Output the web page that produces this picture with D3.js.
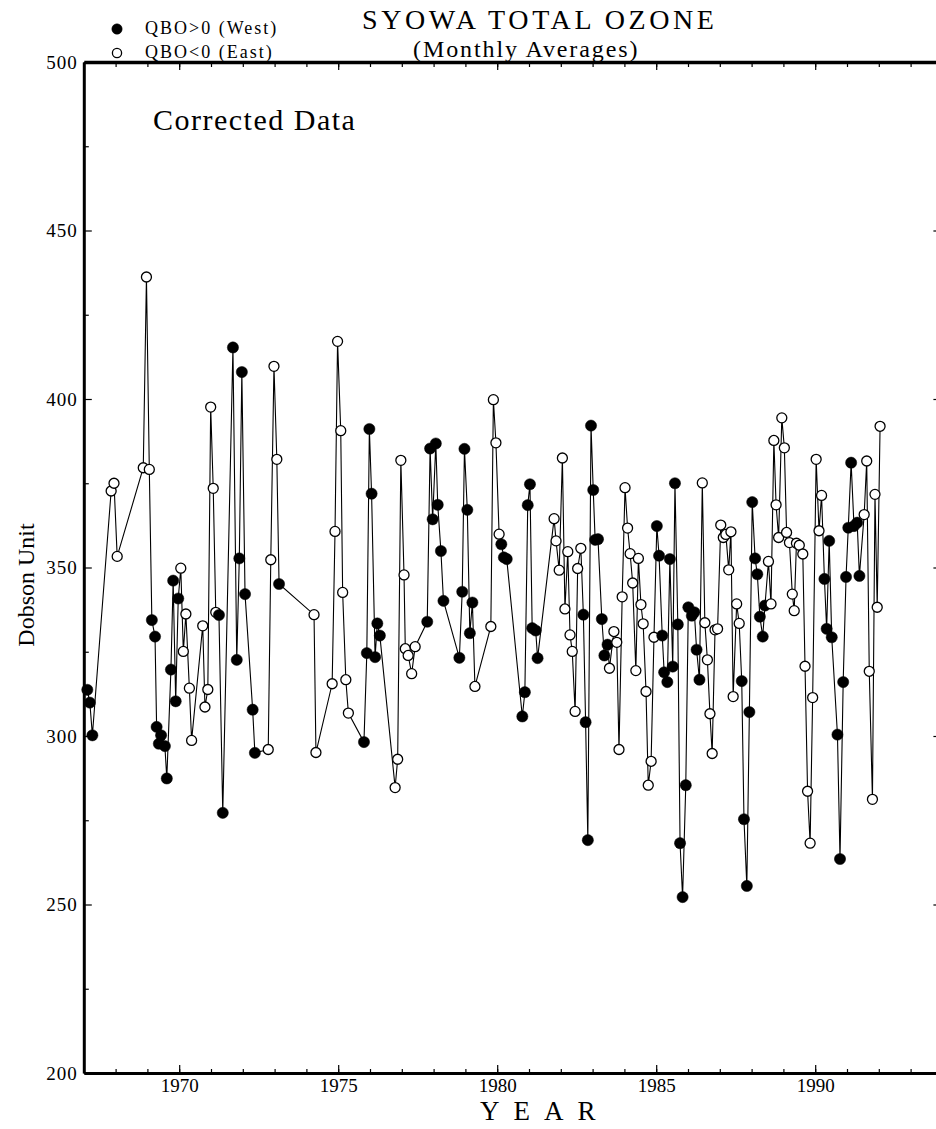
<!DOCTYPE html>
<html>
<head>
<meta charset="utf-8">
<title>Syowa Total Ozone</title>
<script src="https://cdn.jsdelivr.net/npm/d3@7"></script>
<style>
  body { margin: 0; background: #fff; }
  svg { display: block; }
</style>
</head>
<body>
<script>
// Datos: fecha (año decimal), ozono total (DU) y fase QBO
var anios = [
  1967.11, 1967.19, 1967.27, 1967.86, 1967.95, 1968.05, 1968.87, 1968.97, 1969.06, 1969.14,
  1969.24, 1969.29, 1969.36, 1969.43, 1969.55, 1969.61, 1969.74, 1969.81, 1969.89, 1969.97,
  1970.05, 1970.13, 1970.21, 1970.32, 1970.39, 1970.74, 1970.81, 1970.90, 1970.99, 1971.07,
  1971.15, 1971.25, 1971.37, 1971.69, 1971.81, 1971.89, 1971.97, 1972.07, 1972.31, 1972.38,
  1972.80, 1972.88, 1972.98, 1973.07, 1973.14, 1974.24, 1974.30, 1974.81, 1974.90, 1974.98,
  1975.08, 1975.14, 1975.24, 1975.32, 1975.81, 1975.90, 1975.98, 1976.05, 1976.16, 1976.23,
  1976.31, 1976.79, 1976.87, 1976.97, 1977.07, 1977.11, 1977.20, 1977.31, 1977.42, 1977.80,
  1977.89, 1977.97, 1978.07, 1978.13, 1978.23, 1978.31, 1978.81, 1978.90, 1978.97, 1979.06,
  1979.14, 1979.22, 1979.30, 1979.80, 1979.88, 1979.96, 1980.06, 1980.13, 1980.21, 1980.30,
  1980.79, 1980.87, 1980.96, 1981.03, 1981.10, 1981.21, 1981.27, 1981.79, 1981.85, 1981.95,
  1982.05, 1982.13, 1982.22, 1982.29, 1982.36, 1982.45, 1982.53, 1982.63, 1982.71, 1982.78,
  1982.85, 1982.95, 1983.02, 1983.08, 1983.17, 1983.29, 1983.37, 1983.47, 1983.53, 1983.67,
  1983.76, 1983.83, 1983.93, 1984.02, 1984.10, 1984.18, 1984.26, 1984.36, 1984.44, 1984.52,
  1984.59, 1984.68, 1984.75, 1984.84, 1984.93, 1985.02, 1985.09, 1985.19, 1985.25, 1985.35,
  1985.43, 1985.52, 1985.59, 1985.68, 1985.75, 1985.83, 1985.93, 1986.01, 1986.12, 1986.20,
  1986.27, 1986.36, 1986.45, 1986.53, 1986.61, 1986.69, 1986.76, 1986.85, 1986.93, 1987.03,
  1987.11, 1987.19, 1987.28, 1987.35, 1987.42, 1987.53, 1987.61, 1987.69, 1987.76, 1987.85,
  1987.93, 1988.02, 1988.11, 1988.18, 1988.26, 1988.35, 1988.42, 1988.53, 1988.61, 1988.70,
  1988.77, 1988.85, 1988.95, 1989.03, 1989.10, 1989.19, 1989.28, 1989.34, 1989.41, 1989.50,
  1989.61, 1989.68, 1989.76, 1989.84, 1989.92, 1990.03, 1990.12, 1990.20, 1990.29, 1990.36,
  1990.44, 1990.52, 1990.70, 1990.78, 1990.88, 1990.97, 1991.04, 1991.13, 1991.22, 1991.32,
  1991.39, 1991.54, 1991.62, 1991.70, 1991.80, 1991.88, 1991.95, 1992.04
];

var ozono = [
  313.7, 309.9, 300.2, 372.7, 375.0, 353.3, 379.6, 436.2, 379.1, 334.4,
  329.5, 302.7, 297.7, 300.2, 297.0, 287.4, 319.7, 346.1, 310.3, 340.8,
  349.8, 325.1, 336.2, 314.2, 298.7, 332.7, 308.6, 313.8, 397.6, 373.5,
  336.7, 335.9, 277.2, 415.3, 322.6, 352.7, 408.0, 342.1, 307.8, 295.0,
  296.0, 352.3, 409.7, 382.1, 345.1, 336.0, 295.1, 315.5, 360.7, 417.1,
  390.6, 342.6, 316.7, 306.8, 298.2, 324.6, 391.1, 371.9, 323.4, 333.4,
  329.8, 284.7, 293.1, 381.8, 347.8, 325.9, 323.9, 318.5, 326.5, 333.9,
  385.3, 364.3, 386.8, 368.6, 354.9, 340.1, 323.2, 342.8, 385.2, 367.1,
  330.5, 339.6, 314.7, 332.5, 399.8, 387.0, 359.9, 356.9, 353.0, 352.5,
  305.8, 313.0, 368.5, 374.7, 332.0, 331.3, 323.1, 364.5, 357.9, 349.2,
  382.5, 337.7, 354.7, 330.0, 325.1, 307.3, 349.7, 355.7, 336.0, 304.1,
  269.1, 392.1, 373.0, 358.2, 358.4, 334.7, 323.9, 327.1, 320.1, 331.0,
  327.8, 296.0, 341.3, 373.7, 361.7, 354.1, 345.4, 319.4, 352.7, 339.0,
  333.3, 313.2, 285.4, 292.5, 329.3, 362.3, 353.5, 329.8, 318.9, 316.0,
  352.5, 320.6, 375.0, 333.1, 268.2, 252.2, 285.4, 338.2, 335.7, 336.7,
  325.6, 316.7, 375.1, 333.6, 322.6, 306.6, 294.8, 331.5, 331.8, 362.6,
  358.9, 359.8, 349.3, 360.6, 311.7, 339.2, 333.4, 316.3, 275.3, 255.5,
  307.1, 369.4, 352.7, 348.0, 335.4, 329.5, 338.7, 351.8, 339.2, 387.7,
  368.6, 358.9, 394.4, 385.5, 360.4, 357.4, 342.1, 337.2, 357.2, 356.6,
  354.0, 320.7, 283.6, 268.2, 311.4, 382.1, 360.9, 371.4, 346.6, 331.8,
  357.9, 329.3, 300.4, 263.5, 316.0, 347.2, 361.8, 381.1, 362.3, 363.3,
  347.5, 365.7, 381.6, 319.2, 281.2, 371.7, 338.2, 391.9
];

// W = QBO>0 (West, punto lleno), E = QBO<0 (East, punto vacío)
var qbo = [
  "W","W","W","E","E","E","E","E","E","W",
  "W","W","W","W","W","W","W","W","W","W",
  "E","E","E","E","E","E","E","E","E","E",
  "E","W","W","W","W","W","W","W","W","W",
  "E","E","E","E","W","E","E","E","E","E",
  "E","E","E","E","W","W","W","W","W","W",
  "W","E","E","E","E","E","E","E","E","W",
  "W","W","W","W","W","W","W","W","W","W",
  "W","W","E","E","E","E","E","W","W","W",
  "W","W","W","W","W","W","W","E","E","E",
  "E","E","E","E","E","E","E","E","W","W",
  "W","W","W","W","W","W","W","W","E","E",
  "E","E","E","E","E","E","E","E","E","E",
  "E","E","E","E","E","W","W","W","W","W",
  "W","W","W","W","W","W","W","W","W","W",
  "W","W","E","E","E","E","E","E","E","E",
  "E","E","E","E","E","E","E","W","W","W",
  "W","W","W","W","W","W","W","E","E","E",
  "E","E","E","E","E","E","E","E","E","E",
  "E","E","E","E","E","E","E","E","W","W",
  "W","W","W","W","W","W","W","W","W","W",
  "W","E","E","E","E","E","E","E"
];

var aniosEtiqueta = [1970, 1975, 1980, 1985, 1990];
var ozonoEtiqueta = [200, 250, 300, 350, 400, 450, 500];

var ancho = 936, alto = 1129;
var fuente = "'Liberation Serif', 'Times New Roman', serif";

var svg = d3.select("body").append("svg")
            .attr("width", ancho)
            .attr("height", alto)
            .style("background", "#fff");

// Escalas: años en horizontal, unidades Dobson en vertical
var x = d3.scaleLinear().domain([1967, 1994]).range([83.8, 942.4]);
var y = d3.scaleLinear().domain([200, 500]).range([1073, 62]);

var datos = anios.map(function(a, i) {
    return { anio: a, valor: ozono[i], fase: qbo[i] };
});

// Ejes con marcas hacia dentro
function estiloEje(g, grosor) {
    g.select(".domain").attr("stroke", "#000").attr("stroke-width", grosor);
    g.selectAll(".tick line").attr("stroke", "#000").attr("stroke-width", 1.2);
    g.selectAll("text").attr("font-family", fuente).attr("font-size", 19).attr("fill", "#000");
}

var todosAnios = d3.range(1967, 1995);

// Eje inferior: marcas cortas cada año, largas y con etiqueta cada 5
svg.append("g")
   .attr("transform", "translate(0," + y(200) + ")")
   .call(d3.axisBottom(x).tickValues(todosAnios).tickSizeInner(-4).tickSizeOuter(0).tickFormat(""))
   .call(estiloEje, 3);
svg.append("g")
   .attr("transform", "translate(0," + y(200) + ")")
   .call(d3.axisBottom(x).tickValues(aniosEtiqueta).tickSizeInner(-8).tickSizeOuter(0)
         .tickPadding(6).tickFormat(d3.format("d")))
   .call(estiloEje, 0);

// Eje superior
svg.append("g")
   .attr("transform", "translate(0," + y(500) + ")")
   .call(d3.axisTop(x).tickValues(todosAnios).tickSizeInner(-5).tickSizeOuter(0).tickFormat(""))
   .call(estiloEje, 3.5);
svg.append("g")
   .attr("transform", "translate(0," + y(500) + ")")
   .call(d3.axisTop(x).tickValues(aniosEtiqueta).tickSizeInner(-8).tickSizeOuter(0).tickFormat(""))
   .call(estiloEje, 0);

// Eje izquierdo: etiqueta cada 50, marca menor cada 25
svg.append("g")
   .attr("transform", "translate(" + x(1967) + ",0)")
   .call(d3.axisLeft(y).tickValues(d3.range(225, 500, 50)).tickSizeInner(-5).tickSizeOuter(0).tickFormat(""))
   .call(estiloEje, 3);
var ejeY = svg.append("g")
   .attr("transform", "translate(" + x(1967) + ",0)")
   .call(d3.axisLeft(y).tickValues(ozonoEtiqueta).tickSizeInner(-8).tickSizeOuter(0)
         .tickPadding(6).tickFormat(d3.format("d")))
   .call(estiloEje, 0);
ejeY.selectAll("text").attr("letter-spacing", 1);

// Eje derecho (queda justo fuera del borde)
svg.append("g")
   .attr("transform", "translate(" + x(1994) + ",0)")
   .call(d3.axisRight(y).tickValues([250, 300, 350, 400, 450]).tickSizeInner(-9).tickSizeOuter(0).tickFormat(""))
   .call(estiloEje, 3);

// Línea que une los promedios mensuales
var linea = d3.line()
              .x(function(d) { return x(d.anio); })
              .y(function(d) { return y(d.valor); });

svg.append("path")
   .datum(datos)
   .attr("d", linea)
   .attr("fill", "none")
   .attr("stroke", "#000")
   .attr("stroke-width", 1.1);

// Puntos: lleno para West, vacío para East
svg.selectAll("circle.punto")
   .data(datos)
   .enter().append("circle")
   .attr("class", "punto")
   .attr("cx", function(d) { return x(d.anio); })
   .attr("cy", function(d) { return y(d.valor); })
   .attr("r", function(d) { return d.fase === "W" ? 5.6 : 5.0; })
   .attr("fill", function(d) { return d.fase === "W" ? "#000" : "#fff"; })
   .attr("stroke", "#000")
   .attr("stroke-width", function(d) { return d.fase === "W" ? 0.5 : 1.3; });

// Títulos
svg.append("text")
   .attr("x", 362).attr("y", 29)
   .attr("font-family", fuente).attr("font-size", 28).attr("letter-spacing", 3.6)
   .text("SYOWA TOTAL OZONE");

svg.append("text")
   .attr("x", 413).attr("y", 57)
   .attr("font-family", fuente).attr("font-size", 24).attr("letter-spacing", 1.9)
   .text("(Monthly Averages)");

svg.append("text")
   .attr("x", 153).attr("y", 130)
   .attr("font-family", fuente).attr("font-size", 30).attr("letter-spacing", 1.5)
   .text("Corrected Data");

// Leyenda
var leyenda = [
    { fase: "W", texto: "QBO>0 (West)", cy: 29, ty: 34 },
    { fase: "E", texto: "QBO<0 (East)", cy: 53, ty: 58 }
];
leyenda.forEach(function(l) {
    svg.append("circle")
       .attr("cx", 117).attr("cy", l.cy)
       .attr("r", l.fase === "W" ? 5.2 : 4.6)
       .attr("fill", l.fase === "W" ? "#000" : "#fff")
       .attr("stroke", "#000")
       .attr("stroke-width", l.fase === "W" ? 0.5 : 1.3);
    svg.append("text")
       .attr("x", 145).attr("y", l.ty)
       .attr("font-family", fuente).attr("font-size", 18).attr("letter-spacing", 2)
       .text(l.texto);
});

// Títulos de los ejes
svg.append("text")
   .attr("transform", "translate(34,585) rotate(-90)")
   .attr("text-anchor", "middle")
   .attr("font-family", fuente).attr("font-size", 24)
   .text("Dobson Unit");

svg.append("text")
   .attr("x", 480).attr("y", 1120)
   .attr("font-family", fuente).attr("font-size", 27).attr("letter-spacing", 14)
   .text("YEAR");
</script>
</body>
</html>
